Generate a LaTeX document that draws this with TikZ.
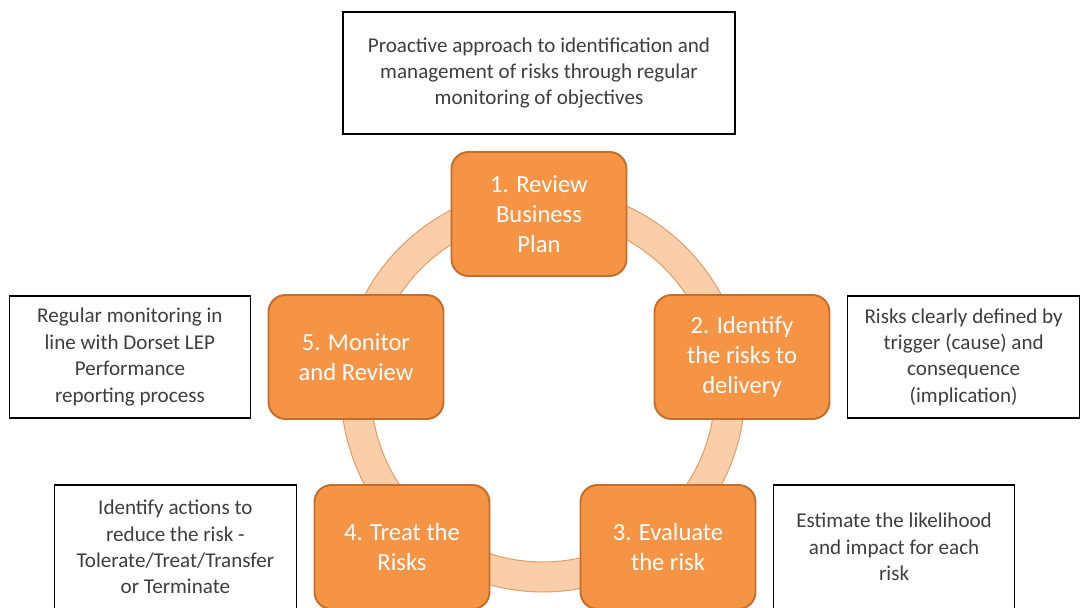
\documentclass[tikz,border=0pt]{standalone}
\usepackage{fontspec}
\setmainfont{Carlito}
\usepackage{xcolor}
\usepackage{tikz}
\definecolor{steporange}{RGB}{246,148,70}
\definecolor{stepedge}{RGB}{196,110,44}
\definecolor{ringpeach}{RGB}{250,206,168}
\definecolor{ringedge}{RGB}{226,160,108}
\definecolor{notegray}{RGB}{62,62,62}
\usetikzlibrary{positioning}

\begin{document}
\begin{tikzpicture}[
    x=0.02cm, y=-0.02cm,
    node distance=0.33cm,
    every node/.style={align=center},
    stepbox/.style={rectangle, rounded corners=0.34cm, fill=steporange, draw=stepedge, line width=1.1pt, text=white, minimum width=3.5cm, minimum height=2.48cm, font=\fontsize{14}{17}\selectfont},
    notebox/.style={rectangle, draw=black, line width=0.8pt, fill=white, text=notegray, minimum height=2.44cm, font=\fontsize{12}{15}\selectfont}
]
    \clip (0,0) rectangle (1080,608);
    \fill[white] (0,0) rectangle (1080,608);

    % Ring behind the steps
    \filldraw[fill=ringpeach, draw=ringedge, line width=0.6pt, even odd rule]
        (543,390) circle (4.04cm) (543,390) circle (3.44cm);

    % Cycle steps
    \node[stepbox] (review) at (539,214) {1. Review\\Business\\Plan};
    \node[stepbox] (identify) at (742,357) {2. Identify\\the risks to\\delivery};
    \node[stepbox] (evaluate) at (668,547) {3. Evaluate\\the risk};
    \node[stepbox] (treat) at (402,547) {4. Treat the\\Risks};
    \node[stepbox] (monitor) at (356,357) {5. Monitor\\and Review};

    % Notes beside the steps
    \node[notebox, minimum width=7.84cm, above=of review] (objective) {
        Proactive approach to identification and\\
        management of risks through regular\\
        monitoring of objectives
    };
    \node[notebox, minimum width=4.64cm, right=of identify] (definition) {
        Risks clearly defined by\\
        trigger (cause) and\\
        consequence\\
        (implication)
    };
    \node[notebox, minimum width=4.82cm, minimum height=2.48cm, right=of evaluate] (likelihood) {
        Estimate the likelihood\\
        and impact for each\\
        risk
    };
    \node[notebox, minimum width=4.84cm, minimum height=2.48cm, left=of treat] (actions) {
        Identify actions to\\
        reduce the risk -\\
        Tolerate/Treat/Transfer\\
        or Terminate
    };
    \node[notebox, minimum width=4.82cm, left=of monitor] (reporting) {
        Regular monitoring in\\
        line with Dorset LEP\\
        Performance\\
        reporting process
    };
\end{tikzpicture}
\end{document}
